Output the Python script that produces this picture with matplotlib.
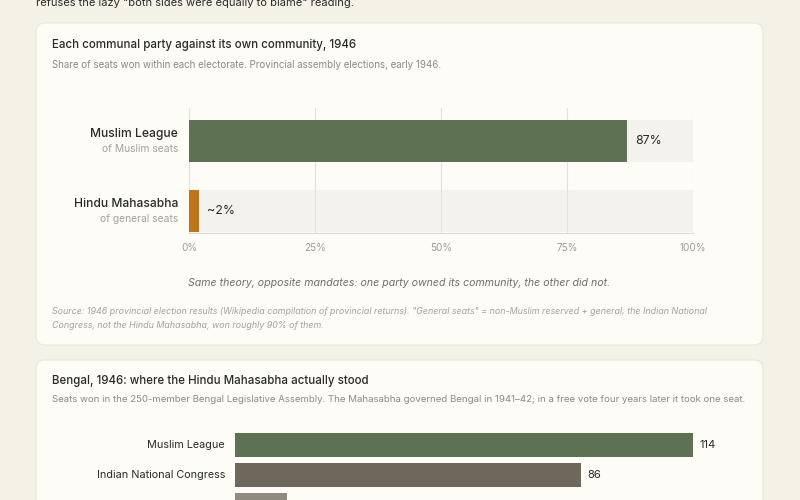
import matplotlib
matplotlib.use('Agg')
import matplotlib.pyplot as plt
from matplotlib.patches import FancyBboxPatch

plt.rcParams['font.family'] = ['Inter', 'DejaVu Sans']

# chart 1: share of seats within own electorate
parties = ["Muslim League", "Hindu Mahasabha"]
electorates = ["of Muslim seats", "of general seats"]
shares = [87, 2]
share_labels = ["87%", "~2%"]
share_colors = ["#5d7153", "#c0741a"]
pct_ticks = [0, 25, 50, 75, 100]

# chart 2: Bengal 1946 seats (third row runs off the bottom of the page)
bengal_parties = ["Muslim League", "Indian National Congress", "Others"]
bengal_seats = [114, 86, 13]
bengal_colors = ["#5d7153", "#6e675c", "#8f8b80"]
shown_labels = 2

PAGE = "#f4f1e7"
CARD = "#fdfcf7"
EDGE = "#e9e5da"
DARK = "#2a2a28"
GREY = "#8a8a86"
LIGHT = "#a3a29d"
GRID = "#e4e1d8"
TRACK = "#f4f2ec"

W, H = 800, 500
fig = plt.figure(figsize=(8, 5), dpi=100)
fig.patch.set_facecolor(PAGE)

# page layer in pixel coordinates
bg = fig.add_axes([0, 0, 1, 1])
bg.set_xlim(0, W)
bg.set_ylim(H, 0)
bg.axis('off')

def card(y0, y1):
    bg.add_patch(FancyBboxPatch((36, y0), 727, y1 - y0,
                                boxstyle="round,pad=0,rounding_size=9",
                                fc=CARD, ec=EDGE, lw=0.8))

bg.text(36, 3, 'refuses the lazy "both sides were equally to blame" reading.',
        fontsize=8, color=DARK, va='center')

card(23, 345)
bg.text(52, 45, "Each communal party against its own community, 1946",
        fontsize=8.3, color=DARK, va='center', fontweight='medium')
bg.text(52, 65, "Share of seats won within each electorate. Provincial assembly elections, early 1946.",
        fontsize=7, color=GREY, va='center')
bg.text(399, 283, "Same theory, opposite mandates: one party owned its community, the other did not.",
        fontsize=7.6, color="#6f6e6a", style='italic', ha='center', va='center')
bg.text(52, 311, "Source: 1946 provincial election results (Wikipedia compilation of provincial returns). "
        "\"General seats\" = non-Muslim reserved + general; the Indian National",
        fontsize=6.4, color=LIGHT, style='italic', va='center')
bg.text(52, 325, "Congress, not the Hindu Mahasabha, won roughly 90% of them.",
        fontsize=6.4, color=LIGHT, style='italic', va='center')

card(360, 540)
bg.text(52, 381, "Bengal, 1946: where the Hindu Mahasabha actually stood",
        fontsize=8.3, color=DARK, va='center', fontweight='medium')
bg.text(52, 400, "Seats won in the 250-member Bengal Legislative Assembly. The Mahasabha governed "
        "Bengal in 1941\u201342; in a free vote four years later it took one seat.",
        fontsize=6.95, color=GREY, va='center')

def px_axes(x0, y0, x1, y1):
    return fig.add_axes([x0 / W, 1 - y1 / H, (x1 - x0) / W, (y1 - y0) / H])

# ---- chart 1
ax = px_axes(189, 108, 693, 233)
ax.set_facecolor('none')
rows = range(len(parties))
ax.barh(rows, [100] * len(parties), height=0.6, color=TRACK, zorder=1)
for x in pct_ticks:
    ax.axvline(x, color=GRID, lw=0.8, zorder=2)
ax.barh(rows, shares, height=0.6, color=share_colors, zorder=3)
for i, (v, lab) in enumerate(zip(shares, share_labels)):
    ax.text(v + 1.5, i, lab, fontsize=8.9, color=DARK, va='center', zorder=4)
ax.set_xlim(0, 100)
ax.set_ylim(1.314, -0.471)
ax.set_xticks(pct_ticks)
ax.set_xticklabels([f"{t}%" for t in pct_ticks])
ax.tick_params(axis='x', length=0, pad=7, labelsize=7.2, labelcolor="#9c9b96")
ax.set_yticks([])
for s in ['top', 'right', 'left']:
    ax.spines[s].set_visible(False)
ax.spines['bottom'].set_color("#dcd9d0")
ax.spines['bottom'].set_linewidth(0.8)
for i, (p, e) in enumerate(zip(parties, electorates)):
    ax.text(-2.2, i - 0.1, p, fontsize=8.7, color=DARK, ha='right', va='center',
            fontweight='medium')
    ax.text(-2.2, i + 0.11, e, fontsize=7.4, color=LIGHT, ha='right', va='center')

# ---- chart 2
ax2 = px_axes(235, 430, 693, 500)
ax2.set_facecolor('none')
brows = range(len(bengal_parties))
ax2.barh(brows, bengal_seats, height=0.8, color=bengal_colors)
for i, (p, v) in enumerate(zip(bengal_parties[:shown_labels], bengal_seats[:shown_labels])):
    ax2.text(v + 1.6, i, str(v), fontsize=8.1, color=DARK, va='center', clip_on=False)
    ax2.text(-2.5, i, p, fontsize=7.8, color=DARK, ha='right', va='center', clip_on=False)
ax2.set_xlim(0, 114)
ax2.set_ylim(1.833, -0.5)
ax2.axis('off')

fig.savefig("out.png", dpi=100, facecolor=PAGE)
